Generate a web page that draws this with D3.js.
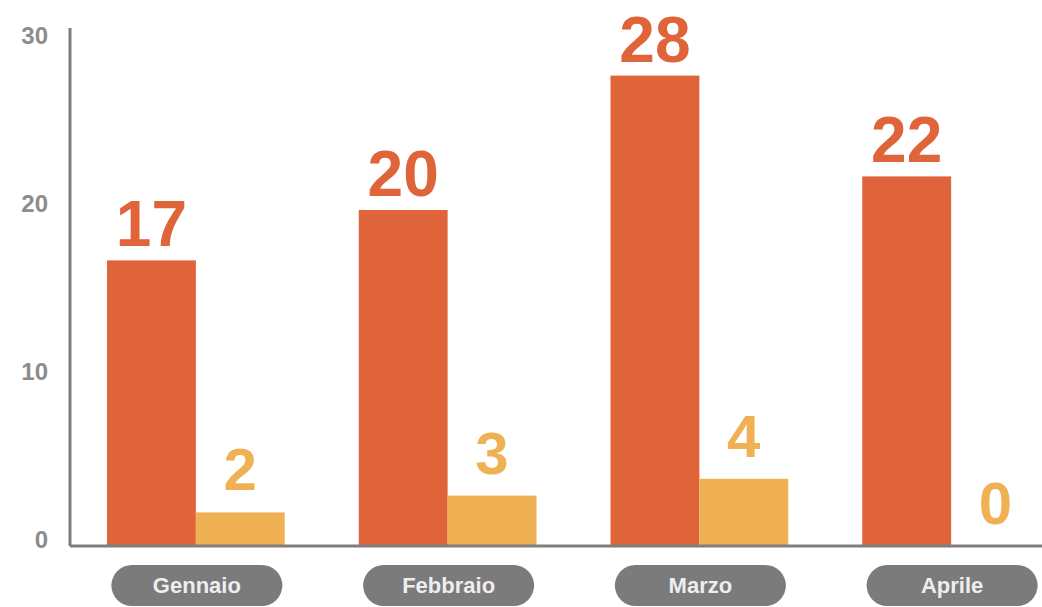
<!DOCTYPE html>
<html>
<head>
<meta charset="utf-8">
<script src="https://cdn.jsdelivr.net/npm/d3@7"></script>
<style>
  body { margin: 0; background: #fff; }
  svg { display: block; }
  text { font-family: "Liberation Sans", Arial, sans-serif; }
</style>
</head>
<body>
<script>
// months shown on the x axis
var months = ['Gennaio', 'Febbraio', 'Marzo', 'Aprile'];
// first series (orange) and second series (yellow)
var serieA = [17, 20, 28, 22];
var serieB = [2, 3, 4, 0];
var yTicks = [0, 10, 20, 30];

var width = 1042, height = 607;
var baseY = 546, topY = 42;

var svg = d3.select('body').append('svg')
  .attr('width', width)
  .attr('height', height);

var y = d3.scaleLinear().domain([0, 30]).range([baseY, topY]);

var x = d3.scaleBand()
  .domain(months)
  .range([107, 1040])
  .paddingInner(0.294)
  .paddingOuter(0);

var xSub = d3.scaleBand()
  .domain(['a', 'b'])
  .range([0, x.bandwidth()]);

var colors = { a: '#e0643a', b: '#f0b155' };

var data = months.map(function(m, i) {
  return { month: m, vals: [{ k: 'a', v: serieA[i] }, { k: 'b', v: serieB[i] }] };
});

// y axis labels, no ticks
var yAxis = d3.axisLeft(y).tickValues(yTicks).tickSize(0).tickPadding(0);
var gy = svg.append('g')
  .attr('transform', 'translate(48,-6)')
  .call(yAxis);
gy.select('.domain').remove();
gy.selectAll('text')
  .attr('font-size', 24)
  .attr('font-weight', 'bold')
  .attr('fill', '#8c8c8c')
  .attr('font-family', '"Liberation Sans", Arial, sans-serif');

// axis lines
svg.append('line')
  .attr('x1', 70).attr('x2', 70)
  .attr('y1', 28).attr('y2', baseY)
  .attr('stroke', '#7e7e7e').attr('stroke-width', 3);

// groups of bars
var groups = svg.selectAll('.grp')
  .data(data)
  .enter().append('g')
  .attr('class', 'grp')
  .attr('transform', function(d) { return 'translate(' + x(d.month) + ',0)'; });

groups.selectAll('rect')
  .data(function(d) { return d.vals; })
  .enter().append('rect')
  .attr('x', function(d) { return xSub(d.k); })
  .attr('width', xSub.bandwidth())
  .attr('y', function(d) { return y(d.v); })
  .attr('height', function(d) { return baseY - y(d.v); })
  .attr('fill', function(d) { return colors[d.k]; });

groups.selectAll('.val')
  .data(function(d) { return d.vals; })
  .enter().append('text')
  .attr('class', 'val')
  .attr('x', function(d) { return xSub(d.k) + xSub.bandwidth() / 2; })
  .attr('y', function(d) { return y(d.v) - (d.k === 'a' ? 14 : 22); })
  .attr('text-anchor', 'middle')
  .attr('font-size', function(d) { return d.k === 'a' ? 64 : 60; })
  .attr('font-weight', 'bold')
  .attr('fill', function(d) { return colors[d.k]; })
  .text(function(d) { return d.v; });

svg.append('line')
  .attr('x1', 70).attr('x2', width)
  .attr('y1', baseY).attr('y2', baseY)
  .attr('stroke', '#7e7e7e').attr('stroke-width', 3);

// month pills
var pillW = 171, pillH = 41;
var pills = svg.selectAll('.pill')
  .data(months)
  .enter().append('g')
  .attr('class', 'pill')
  .attr('transform', function(d) {
    return 'translate(' + (x(d) + x.bandwidth() / 2 + 1) + ',585.5)';
  });

pills.append('rect')
  .attr('x', -pillW / 2).attr('y', -pillH / 2)
  .attr('width', pillW).attr('height', pillH)
  .attr('rx', pillH / 2)
  .attr('fill', '#7b7b7c');

pills.append('text')
  .attr('text-anchor', 'middle')
  .attr('dy', '0.36em')
  .attr('font-size', 22)
  .attr('font-weight', 'bold')
  .attr('fill', '#eeeeee')
  .text(function(d) { return d; });
</script>
</body>
</html>
